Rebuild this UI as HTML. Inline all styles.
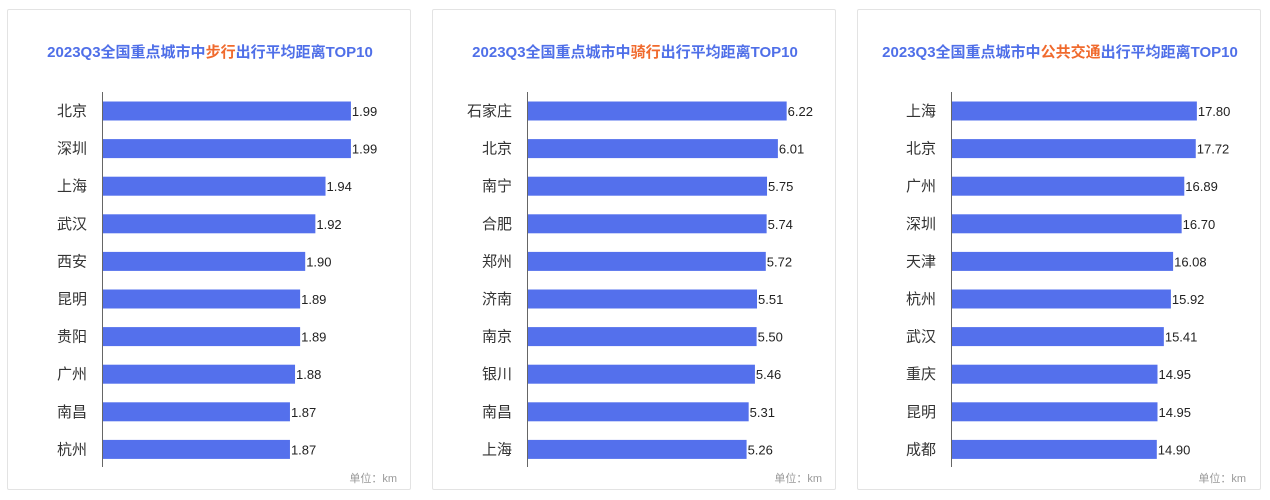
<!DOCTYPE html>
<html><head><meta charset="utf-8"><style>
body{margin:0;width:1270px;height:500px;background:#fff;font-family:"Liberation Sans","Noto Sans CJK SC",sans-serif;position:relative;overflow:hidden}
.card{position:absolute;top:9px;width:404px;height:481px;border:1px solid #e3e3e3;border-radius:2px;box-sizing:border-box}
svg{position:absolute;left:0;top:0}
</style></head><body>
<div class="card" style="left:7px"></div>
<div class="card" style="left:432px"></div>
<div class="card" style="left:857px"></div>
<svg id="s" width="1270" height="500"></svg>
<script>
const walkCities=["北京","深圳","上海","武汉","西安","昆明","贵阳","广州","南昌","杭州"];
const walkValues=[1.99,1.99,1.94,1.92,1.90,1.89,1.89,1.88,1.87,1.87];
const bikeCities=["石家庄","北京","南宁","合肥","郑州","济南","南京","银川","南昌","上海"];
const bikeValues=[6.22,6.01,5.75,5.74,5.72,5.51,5.50,5.46,5.31,5.26];
const busCities=["上海","北京","广州","深圳","天津","杭州","武汉","重庆","昆明","成都"];
const busValues=[17.80,17.72,16.89,16.70,16.08,15.92,15.41,14.95,14.95,14.90];
const charts=[
 {name:"walking",hl:"步行",cats:walkCities,vals:walkValues,min:1.5,max:2.0,ax:102,cx:210},
 {name:"cycling",hl:"骑行",cats:bikeCities,vals:bikeValues,min:0,max:6.3,ax:527,cx:635},
 {name:"transit",hl:"公共交通",cats:busCities,vals:busValues,min:0,max:18.1,ax:951,cx:1060}
];
const NS="http://www.w3.org/2000/svg",s=document.getElementById('s');
function mk(t,a,txt){const e=document.createElementNS(NS,t);for(const k in a)e.setAttribute(k,a[k]);if(txt!=null)e.textContent=txt;s.appendChild(e);return e;}
charts.forEach(c=>{
 const width=(c.max-c.min);const x=v=>c.ax+(v-c.min)/width*(c.name==="walking"?254:c.name==="cycling"?263:250);
 const y=i=>111+i*37.6;
 const t=mk('text',{x:c.cx,y:57,'text-anchor':'middle','font-size':15,'font-weight':'bold',fill:'#4f6fe8'});
 
 
 const a=document.createElementNS(NS,'tspan');a.textContent="2023Q3全国重点城市中";t.appendChild(a);
 const b=document.createElementNS(NS,'tspan');b.setAttribute('fill','#f06a2d');b.textContent=c.hl;t.appendChild(b);
 const d=document.createElementNS(NS,'tspan');d.textContent="出行平均距离TOP10";t.appendChild(d);
 c.cats.forEach((cat,i)=>{
  const l=mk('text',{x:c.ax-15,y:y(i)+5,'text-anchor':'end','font-size':15,fill:'#333'},cat);
  
  
  const r=mk('rect',{x:c.ax,y:y(i)-9.5,width:x(c.vals[i])-c.ax,height:19,fill:'#5470ec'});
  
  
  const v=mk('text',{x:x(c.vals[i])+1,y:y(i)+5,'font-size':13,fill:'#222'},c.vals[i].toFixed(2));
  
  
 });
 const ln=mk('line',{x1:c.ax+0.5,x2:c.ax+0.5,y1:92,y2:467,stroke:'#666','stroke-width':1});
 
 
 const u=mk('text',{x:c.ax+295,y:482,'text-anchor':'end','font-size':11,fill:'#999'},"单位：km");
 
 
});
</script>
</body></html>
